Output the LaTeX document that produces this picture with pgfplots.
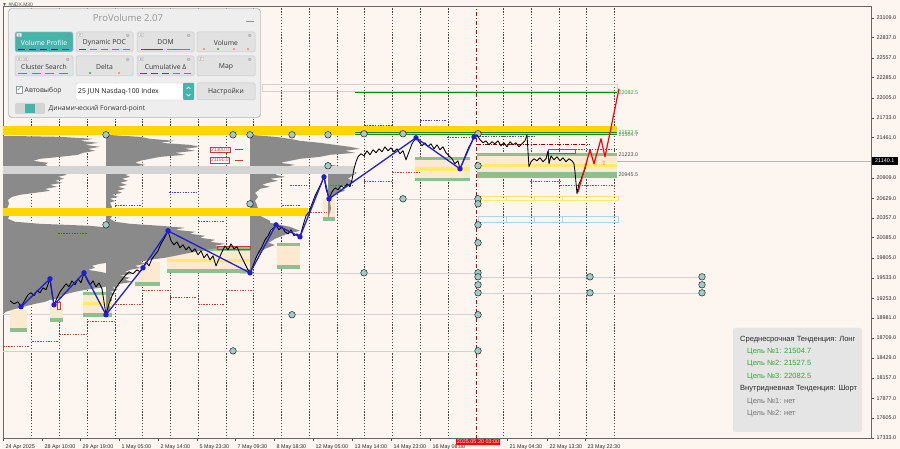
\documentclass[border=0pt]{standalone}
\usepackage{pgfplots}
\pgfplotsset{compat=1.18}
\usepackage{fontspec}
\setmainfont{Liberation Sans}
\newfontfamily\panelfont{Open Sans}
\newfontfamily\symfont{DejaVu Sans}

\definecolor{chartbg}{RGB}{253,246,240}
\definecolor{gold}{RGB}{255,214,0}
\definecolor{poc}{RGB}{212,212,212}
\definecolor{prof}{RGB}{138,138,138}
\definecolor{va}{RGB}{251,234,208}
\definecolor{vagreen}{RGB}{143,190,143}
\definecolor{vayellow}{RGB}{255,234,110}
\definecolor{zz}{RGB}{30,30,215}
\definecolor{lvlred}{RGB}{200,60,60}
\definecolor{lvlblue}{RGB}{70,70,210}
\definecolor{pivot}{RGB}{158,204,198}
\definecolor{tgtgreen}{RGB}{30,135,30}
\definecolor{txtgreen}{RGB}{60,160,60}
\definecolor{panelbg}{RGB}{238,238,238}
\definecolor{btnbg}{RGB}{226,226,226}
\definecolor{tealbtn}{RGB}{70,180,170}
\definecolor{infobg}{RGB}{229,229,229}
\definecolor{boxblue}{RGB}{170,215,230}

\newcommand\ticklbl{\fontsize{5.4}{6}\selectfont}
\newcommand\btnfont{\panelfont\fontsize{6.8}{8}\selectfont}
% filled horizontal band: x1, x2, top price, bottom price, colour
\newcommand{\hband}[5]{\addplot[draw=none, fill=#5] coordinates {(#1,#3) (#2,#3) (#2,#4) (#1,#4)} -- cycle;}
% outlined box: x1, x2, top price, bottom price, colour
\newcommand{\obox}[5]{\addplot[draw=#5, line width=0.6pt, fill=none] coordinates {(#1,#3) (#2,#3) (#2,#4) (#1,#4)} -- cycle;}
% horizontal segment: x1, x2, price, style
\newcommand{\hseg}[4]{\addplot[#4] coordinates {(#1,#3) (#2,#3)};}
% panel button: x1, top, x2, bottom, fill
\newcommand{\pbtn}[5]{\draw[rounded corners=1.5pt, fill=#5, draw=black!22, line width=0.5pt] (#1,#2) rectangle (#3,#4);}
\newcommand{\gear}[2]{\node[text=black!45, font=\symfont\fontsize{4.5}{5}\selectfont, inner sep=0pt] at (#1,#2) {⚙};}
\newcommand{\tagbox}[3]{\node[draw=black!25, fill=black!6, text=black!55, font=\fontsize{3.3}{4}\selectfont, inner sep=0.6pt, minimum width=5pt, anchor=north west, rounded corners=0.5pt] at (#1,#2) {#3};}

\begin{document}
\begin{tikzpicture}[x=1pt,y=1pt]
\path[use as bounding box] (0,0) rectangle (900,449);
\fill[chartbg] (0,0) rectangle (900,449);

% small symbol caption at top left
\node[anchor=west, font=\fontsize{5}{6}\selectfont, text=black!70, inner sep=0pt] at (2,443.5) {▼ \#NDX,M30};

\begin{axis}[
  at={(3,14)}, anchor=south west,
  scale only axis, width=868pt, height=432pt,
  xmin=3, xmax=871, ymin=17319.4, ymax=23260.2,
  scaled x ticks=false, scaled y ticks=false,
  axis background/.style={fill=chartbg},
  axis line style={draw=black!60, line width=0.8pt},
  clip mode=individual,
  tick align=outside,
  major tick length=2.5pt,
  tick style={draw=black!70, line width=0.5pt},
  ytick pos=right, yticklabel pos=right,
  xtick pos=bottom,
  ytick={23109,22837,22557,22285,22005,21733,21461,21181,20909,20629,20357,20085,19805,19533,19253,18981,18709,18429,18157,17877,17605,17333},
  yticklabels={23109.0,22837.0,22557.0,22285.0,22005.0,21733.0,21461.0,,20909.0,20629.0,20357.0,20085.0,19805.0,19533.0,19253.0,18981.0,18709.0,18429.0,18157.0,17877.0,17605.0,17333.0},
  xtick={3,42,80,119,158,197,235,274,313,352,391,430,507,547,585},
  xticklabels={24 Apr 2025,28 Apr 10:00,29 Apr 19:00,1 May 05:00,2 May 14:00,5 May 23:30,7 May 09:30,8 May 18:30,12 May 05:00,13 May 14:00,14 May 23:00,16 May 08:00,21 May 04:30,22 May 13:30,23 May 22:30},
  tick label style={font=\ticklbl, text=black!85},
  xticklabel style={anchor=north west, xshift=-1pt, yshift=0.5pt},
  yticklabel style={anchor=west, xshift=-0.5pt},
  extra x ticks={31.75,59.5,87.25,115,142.75,170.5,198.25,226,253.75,281.5,309.25,337,364.75,392.5,420.25,448,503.5,531.25,559,586.75,614.5},
  extra x tick labels={},
  extra x tick style={grid=major, major tick length=0pt,
     major grid style={black!72, line width=0.55pt, dash pattern=on 1.3pt off 1.6pt}},
]

% session separator
\addplot[red!80!black, line width=0.6pt, dash pattern=on 4pt off 2pt on 1pt off 2pt] coordinates {(476,17319.4) (476,23260.2)};

% thin reference lines
\hseg{3}{477}{18529}{black!18, line width=0.6pt}
\hseg{3}{477}{19025}{black!18, line width=0.6pt}
\hseg{240}{477}{19602}{black!18, line width=0.6pt}
\hseg{337}{477}{20620}{black!18, line width=0.6pt}
\hseg{477}{702}{19547}{black!18, line width=0.6pt}
\hseg{477}{702}{19327}{black!18, line width=0.6pt}
\hseg{477}{871}{21140.1}{black!28, line width=0.5pt}

% value areas
\hband{10}{27}{19093}{18846}{va}
\hband{10}{27}{18846}{18791}{vagreen}
\hband{50}{63}{19176}{18983}{va}
\hband{50}{63}{18983}{18928}{vagreen}
\hband{83}{112}{19341}{19011}{va}
\hband{83}{112}{19341}{19300}{vagreen}
\hband{83}{112}{19203}{19162}{vayellow}
\hband{83}{112}{19052}{18997}{vagreen}
\hband{135}{160}{19753}{19478}{va}
\hband{135}{160}{19478}{19423}{vagreen}
\hband{167}{250}{19960}{19630}{va}
\hband{167}{250}{19960}{19905}{vagreen}
\hband{167}{250}{19795}{19753}{vayellow}
\hband{167}{250}{19657}{19602}{vagreen}
\hband{277}{300}{19987}{19685}{va}
\hband{277}{300}{20015}{19974}{vagreen}
\hband{277}{300}{19712}{19657}{vagreen}
\hband{323}{335}{20620}{20372}{va}
\hband{323}{335}{20372}{20317}{vagreen}
\hband{415}{470}{21197}{20867}{va}
\hband{415}{470}{21197}{21156}{vagreen}
\hband{415}{470}{21060}{21005}{vayellow}
\hband{415}{470}{20909}{20867}{vagreen}
\hband{477}{617}{21239}{20936}{va}
\hband{477}{617}{21243}{21203}{vagreen}
\hband{477}{617}{21101}{21060}{vayellow}
\hband{477}{617}{20990}{20900}{vagreen}

% volume profiles
\addplot[draw=none, fill=prof] coordinates {
(3,21486) (60,21472) (93,21445) (80,21417) (98,21390) (85,21362) (100,21335) (88,21307) (95,21280) (83,21252)
(78,21225) (60,21197) (40,21170) (33,21142) (48,21115) (45,21087) (50,21060) (35,21032) (55,21005) (60,20977)
(67,20950) (58,20922) (64,20895) (55,20867) (62,20840) (50,20812) (57,20785) (45,20757) (50,20730) (35,20702)
(20,20675) (12,20647) (8,20606) (9,20551) (7,20482) (10,20414) (8,20345) (15,20304) (40,20276) (90,20249)
(110,20221) (125,20194) (140,20166) (135,20139) (150,20111) (145,20084) (160,20056) (167,20029) (155,20001) (165,19974)
(150,19946) (158,19919) (140,19891) (145,19864) (120,19836) (113,19809) (105,19781) (115,19754) (100,19726) (92,19699)
(95,19671) (88,19643) (100,19616) (110,19588) (120,19561) (130,19534) (125,19506) (133,19478) (120,19451) (110,19423)
(100,19396) (85,19368) (75,19341) (67,19313) (60,19286) (62,19258) (50,19231) (45,19203) (35,19176) (27,19148)
(20,19121) (12,19093) (6,19066) (3,19038)} -- cycle;
\addplot[draw=none, fill=prof] coordinates {
(106,21500) (140,21472) (150,21445) (175,21417) (160,21390) (190,21362) (200,21335) (185,21307) (195,21280) (175,21252)
(185,21225) (160,21197) (150,21170) (140,21142) (135,21115) (145,21087) (133,21060) (140,21032) (128,21005) (135,20977)
(125,20950) (130,20922) (122,20895) (128,20867) (120,20840) (127,20812) (118,20785) (125,20757) (117,20730) (122,20702)
(112,20675) (118,20647) (110,20620) (115,20592) (110,20565) (112,20510) (110,20455) (113,20400) (110,20345) (115,20304)
(130,20276) (160,20249) (185,20221) (175,20194) (195,20166) (190,20139) (205,20111) (200,20084) (215,20056) (210,20029)
(225,20001) (215,19974) (220,19946) (205,19919) (195,19891) (185,19864) (175,19836) (165,19809) (150,19781) (140,19754)
(145,19726) (135,19699) (140,19671) (130,19643) (125,19616) (132,19588) (120,19561) (126,19534) (118,19506) (125,19478)
(115,19451) (120,19423) (112,19396) (118,19368) (110,19341) (115,19313) (110,19286) (112,19231) (109,19176) (110,19121)
(108,19066) (106,19011)} -- cycle;
\addplot[draw=none, fill=prof] coordinates {
(250,21500) (275,21472) (290,21445) (300,21417) (320,21390) (335,21362) (350,21335) (360,21307) (345,21280) (355,21252)
(330,21225) (320,21197) (300,21170) (290,21142) (280,21115) (295,21087) (285,21060) (300,21032) (290,21005) (280,20977)
(275,20950) (285,20922) (270,20895) (278,20867) (268,20840) (262,20812) (270,20785) (260,20757) (258,20730) (255,20702)
(258,20647) (255,20592) (257,20537) (258,20482) (256,20427) (262,20372) (270,20317) (270,20290) (280,20262) (290,20235)
(295,20207) (300,20180) (292,20152) (285,20125) (280,20097) (275,20070) (272,20042) (268,20015) (275,19987) (270,19960)
(265,19932) (262,19905) (260,19877) (258,19850) (256,19795) (254,19726) (252,19657) (250,19588)} -- cycle;
\addplot[draw=none, fill=prof] coordinates {
(328,21101) (340,21060) (350,21019) (357,20977) (352,20936) (348,20895) (355,20854) (345,20812) (340,20771) (345,20730)
(335,20689) (332,20647) (330,20592) (331,20482) (328,20345)} -- cycle;

% key horizontal zones
\hband{3}{617}{21624}{21500}{gold}
\hband{3}{308}{20496}{20386}{gold}
\hband{3}{355}{21074}{20964}{poc}

% target and range boxes
\obox{262}{617}{22188}{22105}{black!18}
\obox{478}{506}{20661}{20606}{vayellow}
\obox{506}{534}{20661}{20606}{vayellow}
\obox{534}{562}{20661}{20606}{vayellow}
\obox{562}{618}{20661}{20606}{vayellow}
\obox{478}{506}{20386}{20290}{boxblue}
\obox{506}{534}{20386}{20290}{boxblue}
\obox{534}{562}{20386}{20290}{boxblue}
\obox{562}{618}{20386}{20290}{boxblue}
\hseg{355}{617}{22082.5}{green!55!black, line width=0.8pt}
\hseg{355}{617}{21527.5}{tgtgreen, line width=1.1pt}
\hseg{355}{617}{21504.7}{tgtgreen, line width=1.1pt}

% red level lines
\hseg{3}{30}{18598}{lvlred, line width=0.6pt, dash pattern=on 1.5pt off 1.2pt}
\hseg{32}{58}{18667}{lvlred, line width=0.6pt, dash pattern=on 1.5pt off 1.2pt}
\hseg{59}{87}{18750}{lvlred, line width=0.6pt, dash pattern=on 1.5pt off 1.2pt}
\hseg{87}{115}{18942}{lvlred, line width=0.6pt, dash pattern=on 1.5pt off 1.2pt}
\hseg{115}{142}{19176}{lvlred, line width=0.6pt, dash pattern=on 1.5pt off 1.2pt}
\hseg{143}{170}{19355}{lvlred, line width=0.6pt, dash pattern=on 1.5pt off 1.2pt}
\hseg{170}{197}{19272}{lvlred, line width=0.6pt, dash pattern=on 1.5pt off 1.2pt}
\hseg{198}{225}{19176}{lvlred, line width=0.6pt, dash pattern=on 1.5pt off 1.2pt}
\hseg{226}{253}{19355}{lvlred, line width=0.6pt, dash pattern=on 1.5pt off 1.2pt}
\hseg{310}{327}{20441}{lvlred, line width=0.6pt, dash pattern=on 1.5pt off 1.2pt}
\hseg{330}{353}{20799}{lvlred, line width=0.6pt, dash pattern=on 1.5pt off 1.2pt}
\hseg{364}{392}{20867}{lvlred, line width=0.6pt, dash pattern=on 1.5pt off 1.2pt}
\hseg{392}{420}{20991}{lvlred, line width=0.6pt, dash pattern=on 1.5pt off 1.2pt}
\hseg{530}{560}{20867}{lvlred, line width=0.6pt, dash pattern=on 1.5pt off 1.2pt}
\hseg{560}{615}{20799}{lvlred, line width=0.6pt, dash pattern=on 1.5pt off 1.2pt}
\hseg{477}{590}{21362}{red!65!black, line width=0.9pt, dash pattern=on 4pt off 1.5pt on 1pt off 1.5pt}

% blue level lines
\hseg{58}{87}{20152}{lvlblue, line width=0.6pt, dash pattern=on 1.5pt off 1.2pt}
\hseg{115}{142}{20524}{lvlblue, line width=0.6pt, dash pattern=on 1.5pt off 1.2pt}
\hseg{169}{197}{20716}{lvlblue, line width=0.6pt, dash pattern=on 1.5pt off 1.2pt}
\hseg{198}{225}{20304}{lvlblue, line width=0.6pt, dash pattern=on 1.5pt off 1.2pt}
\hseg{282}{300}{20537}{lvlblue, line width=0.6pt, dash pattern=on 1.5pt off 1.2pt}
\hseg{290}{307}{20799}{lvlblue, line width=0.6pt, dash pattern=on 1.5pt off 1.2pt}
\hseg{364}{392}{21637}{lvlblue, line width=0.6pt, dash pattern=on 1.5pt off 1.2pt}
\hseg{420}{447}{21706}{lvlblue, line width=0.6pt, dash pattern=on 1.5pt off 1.2pt}
\hseg{447}{470}{21472}{lvlblue, line width=0.6pt, dash pattern=on 1.5pt off 1.2pt}
\hseg{477}{535}{21486}{lvlblue, line width=0.6pt, dash pattern=on 1.5pt off 1.2pt}
\hseg{573}{617}{21300}{lvlblue, line width=0.6pt, dash pattern=on 1.5pt off 1.2pt}

% red outlined boxes
\obox{217}{250}{19973}{19932}{lvlred}
\obox{548}{575}{21294}{21252}{lvlred}
\obox{57}{60}{19203}{19107}{lvlred}

% pivot markers
\addplot[only marks, mark=*, mark size=3.3pt, mark options={fill=pivot, draw=none}] coordinates {
(106,21500) (233,21500) (250,21500) (292,21500) (328,21500) (364,21514) (403,21514) (478,21514)
(250,20551) (106,20262) (328,21074) (478,21074) (403,20620) (478,20620) (292,19025) (233,18529)
(478,20551) (478,20262) (478,20015) (478,19602) (478,19547) (478,19437) (478,19327) (478,19025) (478,18529)
(590,19547) (590,19327) (702,19547) (702,19437) (702,19327) (364,19602)};

% price
\addplot[black, line width=0.85pt, line join=round] coordinates {
(10,19217) (14,19176) (18,19203) (21,19135) (25,19231) (28,19300) (31,19327) (34,19286) (37,19355) (40,19327)
(43,19396) (46,19368) (50,19520) (52,19313) (54,19162) (57,19258) (60,19341) (63,19396) (66,19451) (69,19410)
(72,19492) (75,19437) (78,19520) (81,19465) (84,19602) (87,19506) (90,19437) (93,19492) (96,19410) (99,19465)
(102,19382) (104,19203) (106,19025) (109,19176) (112,19286) (115,19368) (118,19437) (121,19492) (125,19561) (129,19616)
(133,19588) (137,19643) (140,19616) (143,19671) (146,19753) (149,19698) (152,19795) (155,19850) (158,19905) (161,20001)
(164,20070) (168,20180) (171,20042) (174,19987) (177,20028) (180,19946) (183,19987) (186,19918) (189,19960) (192,19891)
(195,19932) (198,19850) (201,19905) (204,19808) (207,19863) (210,19781) (213,19836) (216,19698) (219,19795) (222,19891)
(225,19973) (228,19918) (231,20001) (234,19932) (237,19960) (240,19863) (243,19781) (246,19698) (248,19643) (250,19602)
(253,19698) (256,19808) (259,19891) (262,19960) (265,20056) (268,20111) (271,20194) (274,20221) (276,20262) (279,20194)
(282,20235) (285,20166) (288,20138) (291,20194) (294,20111) (297,20138) (300,20097) (303,20249) (306,20386) (309,20441)
(312,20551) (315,20661) (318,20744) (321,20826) (324,20922) (326,20757) (329,20620) (332,20716) (335,20771) (338,20744)
(341,20799) (344,20771) (347,20826) (350,20785) (352,20881) (354,21032) (356,21129) (358,21197) (361,21239) (364,21211)
(367,21280) (370,21225) (373,21294) (376,21252) (379,21307) (382,21266) (385,21335) (388,21280) (391,21321) (394,21266)
(397,21307) (400,21239) (403,21280) (406,21156) (409,21266) (412,21376) (414,21417) (416,21459) (419,21404) (422,21349)
(425,21390) (428,21335) (431,21376) (434,21307) (437,21362) (440,21294) (443,21335) (446,21252) (449,21211) (452,21170)
(455,21101) (458,21142) (460,21032) (463,21129) (466,21239) (469,21335) (472,21404) (474,21472) (477,21500) (480,21431)
(483,21390) (486,21417) (489,21362) (492,21404) (495,21376) (498,21417) (501,21349) (504,21390) (507,21335) (510,21404)
(513,21362) (516,21390) (519,21335) (522,21376) (525,21417) (527,21500) (528,21266) (529,21060) (531,21129) (534,21170)
(537,21142) (540,21184) (543,21129) (546,21170) (548,21280) (549,21101) (551,21211) (554,21156) (557,21197) (560,21142)
(563,21184) (566,21129) (569,21170) (572,21142) (574,21101) (575,20991) (577,20689) (579,20826) (581,20881) (583,20964)
(585,21032) (587,21140.1)};

% zigzag swings
\addplot[zz, line width=1.3pt, mark=*, mark size=2pt, mark options={fill=zz, draw=zz}] coordinates {
(21,19135) (50,19520) (54,19162) (84,19602) (106,19025) (143,19671) (168,20180) (250,19602) (276,20262) (300,20097)
(324,20922) (329,20620) (416,21459) (460,21032) (474,21472)};

% projected path
\addplot[red, line width=1.2pt, line join=round] coordinates {
(578,20711) (590,21294) (594,21101) (601,21445) (605,21197) (619,22133)};
\node[text=orange, font=\symfont\fontsize{6}{6}\selectfont, inner sep=0pt] at (axis cs:604,21115) {⇧};

% level captions
\node[anchor=west, font=\ticklbl, text=txtgreen, inner sep=0.5pt] at (axis cs:618,22082.5) {22082.5};
\node[anchor=west, font=\ticklbl, text=txtgreen, inner sep=0.5pt] at (axis cs:618,21527.5) {21527.5};
\node[anchor=west, font=\ticklbl, text=txtgreen, inner sep=0.5pt] at (axis cs:618,21504.7) {21504.7};
\node[anchor=west, font=\ticklbl, text=black!70, inner sep=0.5pt] at (axis cs:618,21223) {21223.0};
\node[anchor=west, font=\ticklbl, text=black!70, inner sep=0.5pt] at (axis cs:618,20945.5) {20945.5};

\node[draw=lvlred, fill=white, text=lvlred, font=\fontsize{5}{5}\selectfont, inner sep=0.8pt, anchor=west] at (axis cs:210,21300) {21300.0};
\node[draw=lvlred, fill=white, text=lvlred, font=\fontsize{5}{5}\selectfont, inner sep=0.8pt, anchor=west] at (axis cs:210,21150) {21150.0};
\hseg{235}{243}{21300}{lvlred, line width=0.6pt}
\hseg{235}{243}{21150}{lvlred, line width=0.6pt}

% current price and separator date
\node[fill=black, text=white, font=\ticklbl, inner sep=0.8pt, minimum width=26pt, minimum height=8.5pt, anchor=west] at (axis cs:871.5,21140.1) {21140.1};
\node[fill=red, text=white, font=\ticklbl, inner sep=1pt, anchor=north] at (axis cs:478,17319.4) {2025.05.20 03:00};
\end{axis}

% ---------- control panel ----------
\fill[black!30, rounded corners=3pt] (8.3,440.7) rectangle (260.7,331.3);
\fill[panelbg, rounded corners=3pt] (9,440) rectangle (260,332);
\node[text=black!42, font=\panelfont\fontsize{9.5}{11}\selectfont] at (128,431.5) {ProVolume 2.07};
\draw[black!45, line width=0.8pt] (246,427.5) -- (254,427.5);

\pbtn{15}{417}{73}{397}{tealbtn}
\pbtn{76}{417}{133}{397}{btnbg}
\pbtn{137}{417}{194}{397}{btnbg}
\pbtn{197}{417}{255}{397}{btnbg}
\pbtn{15}{393}{73}{373}{btnbg}
\pbtn{76}{393}{133}{373}{btnbg}
\pbtn{137}{393}{194}{373}{btnbg}
\pbtn{197}{393}{255}{373}{btnbg}

\node[font=\btnfont, text=white] at (44,406.5) {Volume Profile};
\node[font=\btnfont, text=black!80] at (104.5,406.5) {Dynamic POC};
\node[font=\btnfont, text=black!80] at (165.5,406.5) {DOM};
\node[font=\btnfont, text=black!80] at (226,406.5) {Volume};
\node[font=\btnfont, text=black!80] at (44,382.5) {Cluster Search};
\node[font=\btnfont, text=black!80] at (104.5,382.5) {Delta};
\node[font=\btnfont, text=black!80] at (165.5,382.5) {Cumulative Δ};
\node[font=\btnfont, text=black!80] at (226,382.5) {Map};

\tagbox{16.5}{416}{V}
\tagbox{77.5}{416}{P}
\tagbox{138.5}{416}{D}
\tagbox{16.5}{392}{R}
\tagbox{23}{392}{N}
\tagbox{138.5}{392}{M}
\tagbox{198.5}{392}{F}
\gear{68}{413.5}\gear{128}{413.5}\gear{189}{413.5}\gear{250}{413.5}
\gear{68}{389.5}\gear{128}{389.5}\gear{189}{389.5}\gear{250}{389.5}

% indicator strokes
\foreach \i in {0,1,2,3} {\draw[red!55!black, line width=0.7pt] (18+11*\i,400) -- (25+11*\i,400);}
\draw[green!50!black, line width=0.7pt] (62,400) -- (69,400);
\draw[green!50!black, line width=0.7pt] (79,400) -- (86,400);
\foreach \i in {1,2,3,4} {\draw[red!70, line width=0.7pt] (79+11*\i,400) -- (86+11*\i,400);}
\draw[green!50!black, line width=0.7pt] (141,400) -- (163,400);
\draw[red!70, line width=0.7pt] (167,400) -- (190,400);
\fill[red!70] (204,400) circle (0.9);
\fill[green!50!black] (218,400) circle (0.9);
\fill[red!70] (234,400) circle (0.9);
\fill[red!70] (248,400) circle (0.9);
\foreach \i in {0,1,2,3} {\draw[red!70, line width=0.7pt] (18+13.5*\i,376) -- (27+13.5*\i,376);}
\fill[green!50!black] (90,376) circle (0.9);
\fill[red!70] (119,376) circle (0.9);
\foreach \i in {0,1,2} {\draw[green!50!black, line width=0.7pt] (140+11*\i,376) -- (147+11*\i,376);}
\draw[red!70, line width=0.7pt] (173,376) -- (180,376);
\draw[red!70, line width=0.7pt] (184,376) -- (191,376);

% selector row
\draw[fill=white, draw=black!40, line width=0.4pt] (16,362.5) rectangle (22.5,355.5);
\node[text=tealbtn, font=\symfont\fontsize{8}{8}\selectfont, inner sep=0pt] at (19.8,360) {✓};
\node[anchor=west, font=\btnfont, text=black!80, inner sep=0pt] at (24.5,358.5) {Автовыбор};
\draw[fill=white, draw=black!22, rounded corners=1pt] (76,366) rectangle (194,349);
\fill[tealbtn, rounded corners=1pt] (183,366) rectangle (194,349);
\draw[white, line width=0.5pt] (186.5,360) -- (188.5,362) -- (190.5,360);
\draw[white, line width=0.5pt] (186.5,355) -- (188.5,353) -- (190.5,355);
\node[anchor=west, font=\btnfont, text=black!90, inner sep=0pt] at (78,357.5) {25 JUN Nasdaq-100 Index};
\pbtn{197}{366}{255}{349}{btnbg}
\node[font=\btnfont, text=black!80] at (226,357.5) {Настройки};

\fill[black!17, rounded corners=2pt] (15,346) rectangle (45,335);
\fill[tealbtn] (25,345) rectangle (35,336);
\node[anchor=west, font=\btnfont, text=black!80, inner sep=0pt] at (48.5,340.5) {Динамический Forward-point};

% ---------- trend summary ----------
\fill[infobg, rounded corners=2pt] (733,121) rectangle (862,17);
\begin{scope}[every node/.style={anchor=west, inner sep=0pt, font=\fontsize{7.5}{8}\selectfont}]
\node[text=black!85] at (740,109) {Среднесрочная Тенденция: Лонг};
\node[text=txtgreen] at (747,97) {Цель №1: 21504.7};
\node[text=txtgreen] at (747,85) {Цель №2: 21527.5};
\node[text=txtgreen] at (747,72.5) {Цель №3: 22082.5};
\node[text=black!85] at (740,60) {Внутридневная Тенденция: Шорт};
\node[text=black!55] at (747,47.5) {Цель №1: нет};
\node[text=black!55] at (747,35) {Цель №2: нет};
\end{scope}
\end{tikzpicture}
\end{document}
